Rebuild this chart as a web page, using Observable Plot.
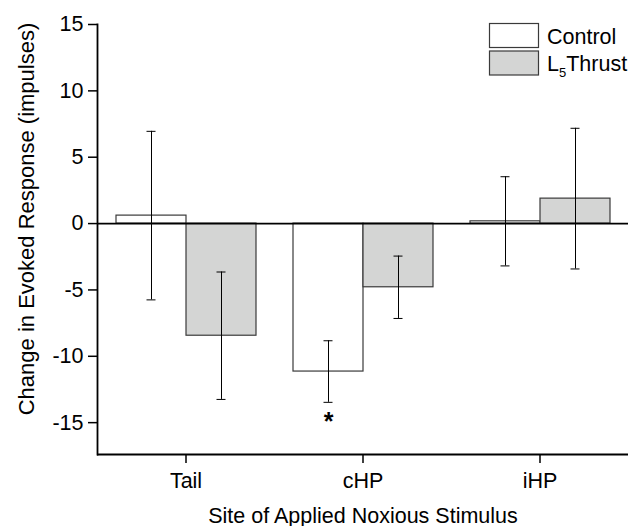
<!DOCTYPE html>
<html>
<head>
<meta charset="utf-8">
<script src="https://cdn.jsdelivr.net/npm/d3@7"></script>
<script src="https://cdn.jsdelivr.net/npm/@observablehq/plot@0.6"></script>
<style>
  html, body { margin: 0; padding: 0; background: #fff; }
  #chart svg { display: block; }
</style>
</head>
<body>
<div id="chart"></div>
<script>
// ---- data ----
const sites = ["Tail", "cHP", "iHP"];
const seriesNames = ["Control", "L5 Thrust"];
const controlMean = [0.6, -11.15, 0.17];
const controlErr = [6.35, 2.32, 3.36];
const thrustMean = [-8.45, -4.8, 1.88];
const thrustErr = [4.8, 2.35, 5.3];
const significant = [{site: "cHP", series: "Control"}];
const yTicks = [-15, -10, -5, 0, 5, 10, 15];
const yDomain = [-17.4, 15];
const seriesFills = ["#ffffff", "#d4d5d4"];
const xLabel = "Site of Applied Noxious Stimulus";
const yLabel = "Change in Evoked Response (impulses)";

// table built from the arrays
const rows = [];
sites.forEach((s, i) => {
  rows.push({site: s, series: seriesNames[0], mean: controlMean[i], err: controlErr[i]});
  rows.push({site: s, series: seriesNames[1], mean: thrustMean[i], err: thrustErr[i]});
});
rows.forEach(d => { d.lo = d.mean - d.err; d.hi = d.mean + d.err; });
const sigRows = significant.map(s => rows.find(r => r.site === s.site && r.series === s.series));

const font = "'Liberation Sans', Arial, Helvetica, sans-serif";

const chart = Plot.plot({
  width: 630,
  height: 526,
  marginLeft: 96,
  marginRight: 1,
  marginTop: 24,
  marginBottom: 72,
  style: {fontFamily: font, fontSize: "21.5px", color: "#000", background: "#fff"},
  fx: {domain: sites, padding: 0},
  x: {domain: seriesNames, paddingInner: 0, paddingOuter: 0.25, axis: null},
  y: {domain: yDomain},
  color: {domain: seriesNames, range: seriesFills},
  marks: [
    Plot.barY(rows, {fx: "site", x: "series", y: "mean", fill: "series", stroke: "#3a3a3a", strokeWidth: 1.2}),
    Plot.ruleY([0], {stroke: "#000", strokeWidth: 1.8}),
    Plot.ruleX(rows, {fx: "site", x: "series", y1: "lo", y2: "hi", stroke: "#000", strokeWidth: 1}),
    Plot.tickY(rows, {fx: "site", x: "series", y: "lo", stroke: "#000", strokeWidth: 1, insetLeft: 30.5, insetRight: 30.5}),
    Plot.tickY(rows, {fx: "site", x: "series", y: "hi", stroke: "#000", strokeWidth: 1, insetLeft: 30.5, insetRight: 30.5}),
    Plot.text(sigRows, {fx: "site", x: "series", y: "lo", text: () => "*", lineAnchor: "top", dy: 10, fontSize: 25, fontWeight: "bold", fill: "#000"}),
    Plot.ruleY([yDomain[0]], {stroke: "#000", strokeWidth: 1.8}),
    Plot.frame({anchor: "left", facetAnchor: "left", stroke: "#000", strokeWidth: 1.8}),
    Plot.axisY({ticks: yTicks, tickFormat: d => String(d), tickSize: 9, tickPadding: 5, label: null, stroke: "#000", strokeWidth: 1.5, fill: "#000"}),
    Plot.axisFx({anchor: "bottom", tickSize: 9, tickPadding: 9, label: xLabel, labelAnchor: "center", labelOffset: 68, labelArrow: "none", stroke: "#000", strokeWidth: 1.5, fill: "#000"}),
    Plot.text([yLabel], {facet: "super", frameAnchor: "left", textAnchor: "middle", rotate: -90, text: d => d, lineAnchor: "bottom", dx: -64, dy: -20.5, fontSize: 22, fill: "#000"})
  ]
});

document.getElementById("chart").appendChild(chart);

// legend inside the plot area (top-right)
const svg = d3.select(chart.tagName.toLowerCase() === "svg" ? chart : chart.querySelector("svg"));
const lg = svg.append("g").attr("font-family", font).attr("font-size", 21.5).attr("fill", "#000").attr("text-anchor", "start");
const legendRows = [
  {name: "Control", fill: seriesFills[0], y: 23.5},
  {name: "L5 Thrust", fill: seriesFills[1], y: 51}
];
legendRows.forEach((r, i) => {
  lg.append("rect").attr("x", 489.5).attr("y", r.y).attr("width", 49).attr("height", 24)
    .attr("fill", r.fill).attr("stroke", "#3a3a3a").attr("stroke-width", 1.2);
  const t = lg.append("text").attr("x", 547).attr("y", r.y + 20).attr("text-anchor", "start");
  if (i === 0) {
    t.text(r.name);
  } else {
    t.append("tspan").text("L");
    t.append("tspan").attr("dy", 6).attr("font-size", 13).text("5");
    t.append("tspan").attr("dy", -6).text("Thrust");
  }
});
</script>
</body>
</html>
